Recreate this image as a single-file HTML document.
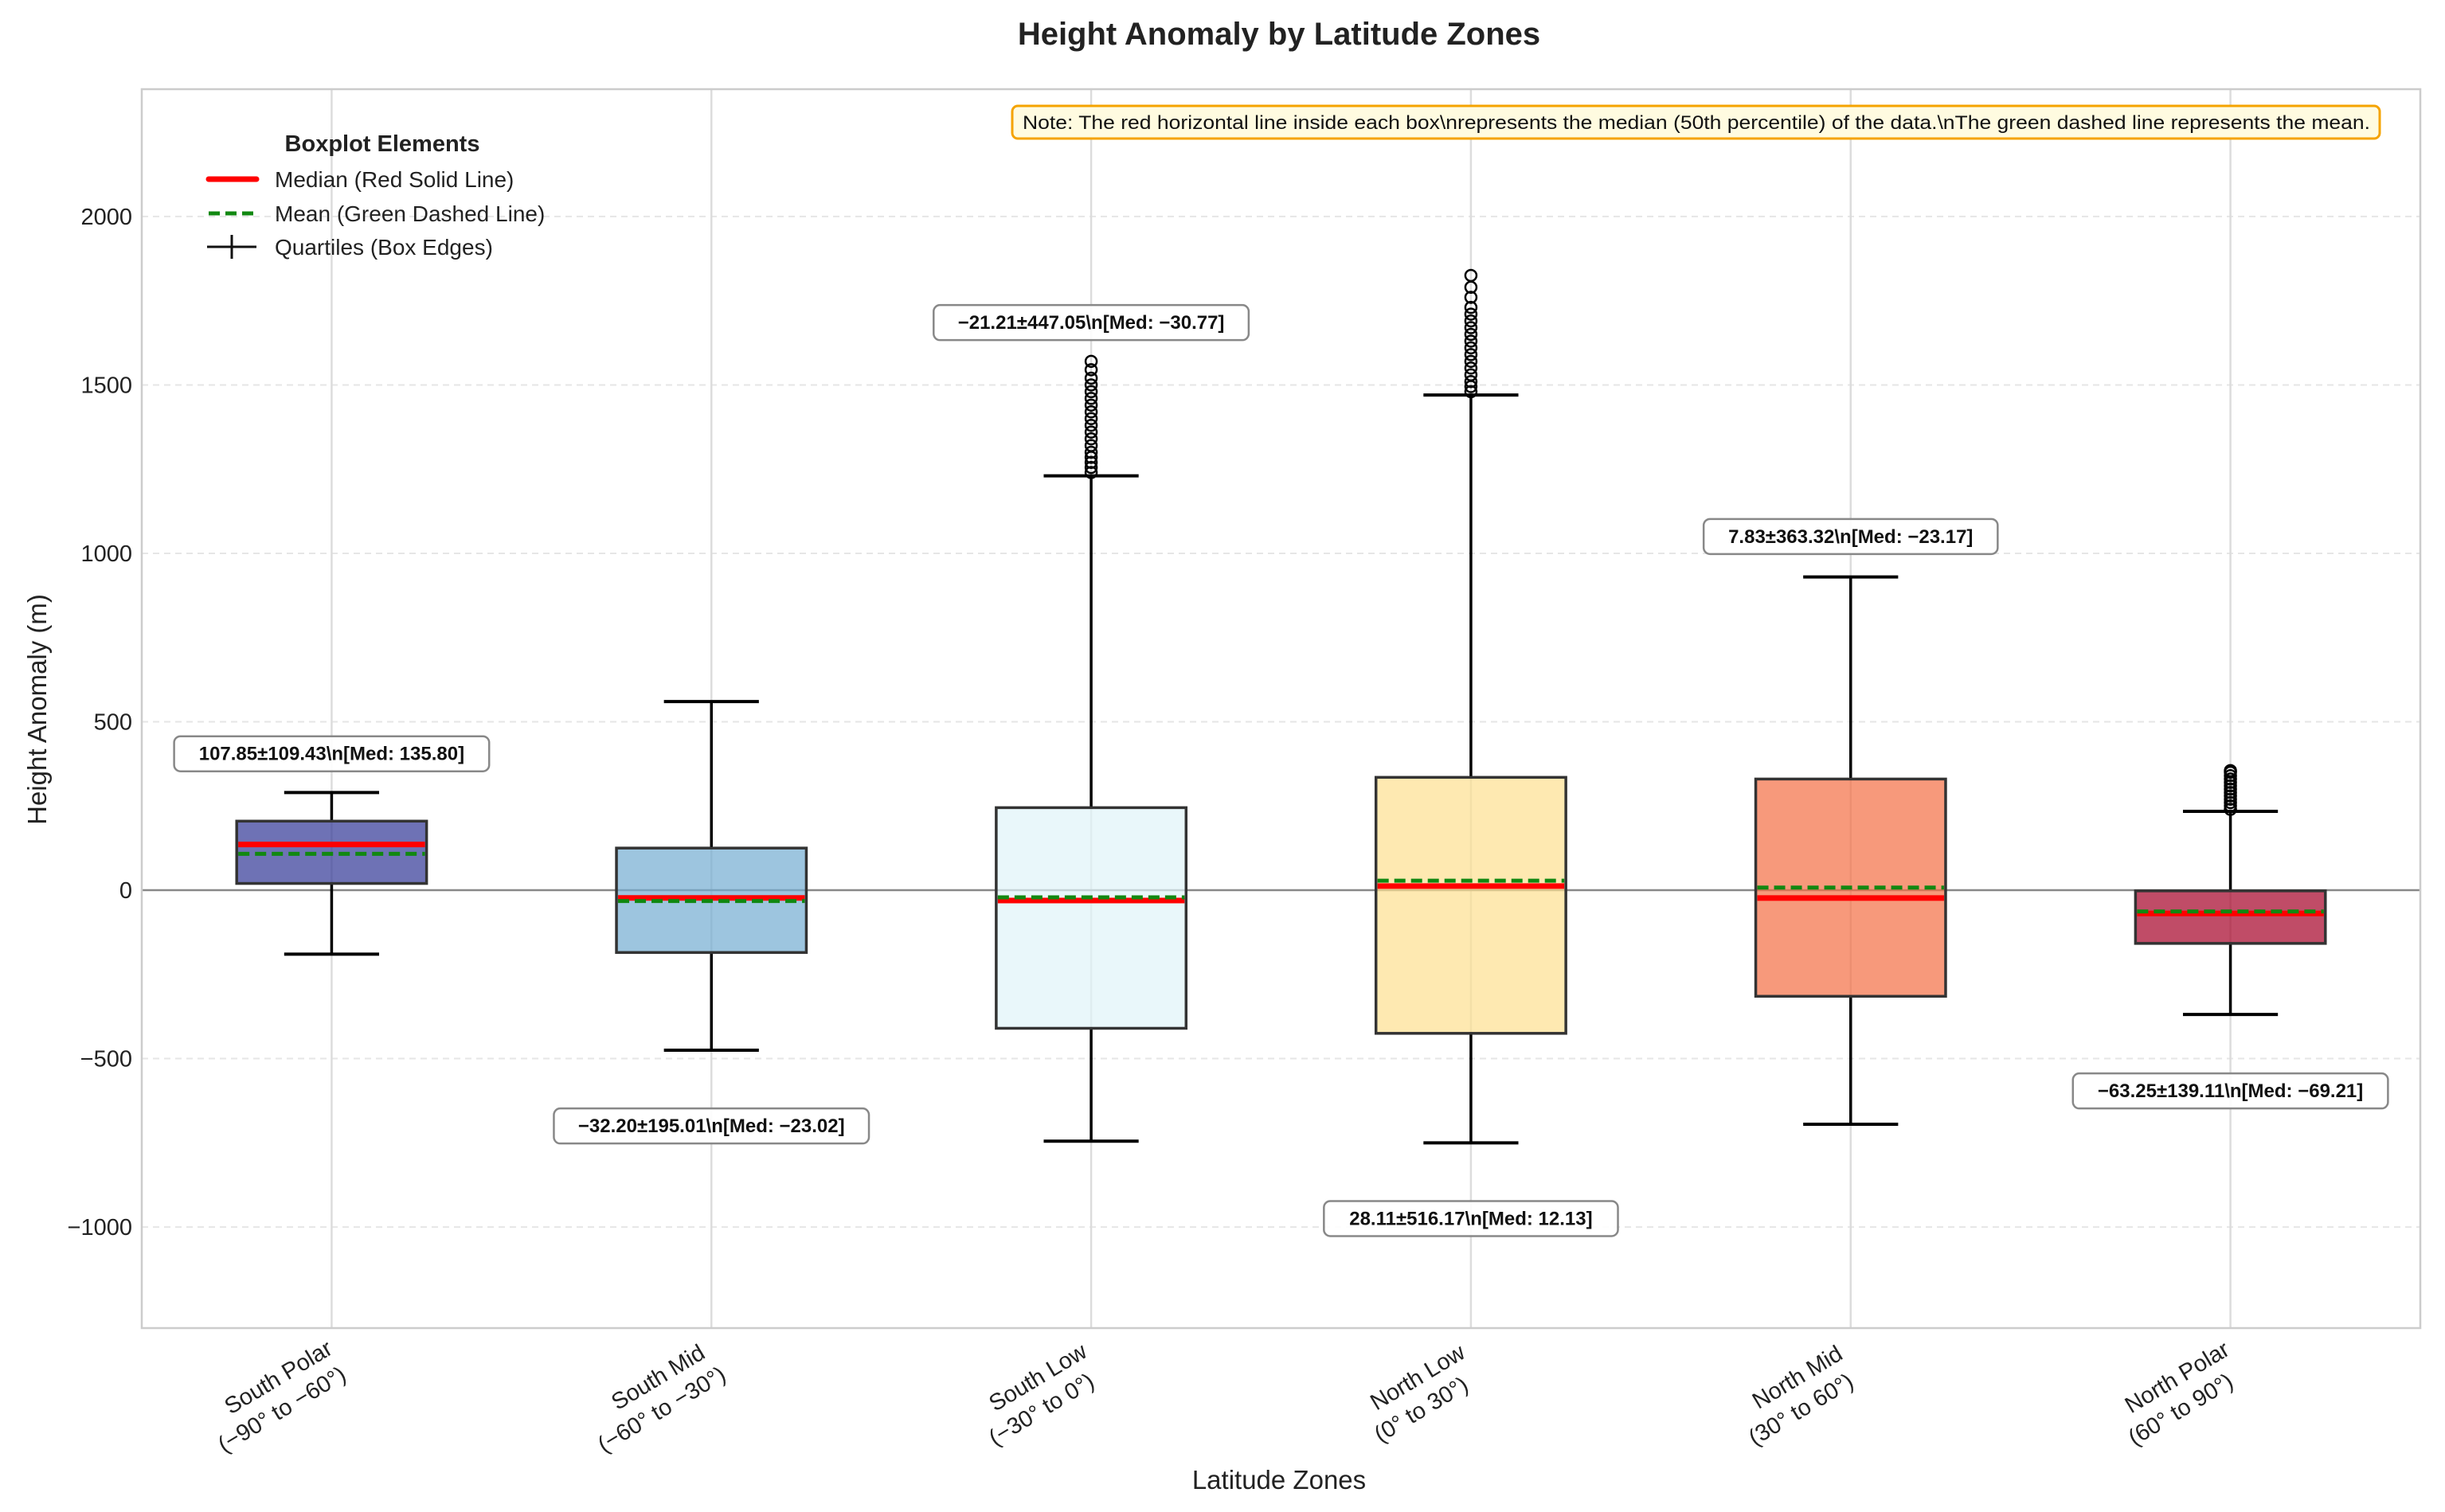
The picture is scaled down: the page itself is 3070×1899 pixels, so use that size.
<!DOCTYPE html>
<html><head><meta charset="utf-8"><style>
html,body{margin:0;padding:0;background:#fff;}
svg{display:block;font-family:"Liberation Sans",sans-serif;}
</style></head><body>
<svg id="chart" width="3070" height="1899" viewBox="0 0 3070 1899" xmlns="http://www.w3.org/2000/svg">
<rect x="0" y="0" width="3070" height="1899" fill="#fff"/>
<g id="grid"></g>
<g id="marks"></g>
<g id="annot"></g>
<rect x="178" y="112" width="2861" height="1556" fill="none" stroke="#cccccc" stroke-width="2.5"/>
<g id="axes"></g>
<text x="1606" y="56" text-anchor="middle" font-size="40" font-weight="bold" fill="#222">Height Anomaly by Latitude Zones</text>
<text x="1606" y="1870" text-anchor="middle" font-size="33" fill="#222">Latitude Zones</text>
<text transform="translate(58,891) rotate(-90)" text-anchor="middle" font-size="33" fill="#222">Height Anomaly (m)</text>
<g>
<text x="480" y="190" text-anchor="middle" font-size="29" font-weight="bold" fill="#222">Boxplot Elements</text>
<line x1="262" y1="225" x2="322" y2="225" stroke="#ff0000" stroke-width="7" stroke-linecap="round"/>
<text x="345" y="235" font-size="28" fill="#222">Median (Red Solid Line)</text>
<line x1="262" y1="268" x2="322" y2="268" stroke="#118811" stroke-width="5" stroke-dasharray="14,7"/>
<text x="345" y="278" font-size="28" fill="#222">Mean (Green Dashed Line)</text>
<line x1="260" y1="310" x2="322" y2="310" stroke="#111" stroke-width="3"/>
<line x1="291" y1="295" x2="291" y2="325" stroke="#111" stroke-width="3"/>
<text x="345" y="320" font-size="28" fill="#222">Quartiles (Box Edges)</text>
</g>
<g>
<rect x="1271" y="133" width="1717" height="41" rx="7" fill="#fffbe0" stroke="#f5a300" stroke-width="3"/>
<text x="1284" y="162" font-size="24" fill="#111" textLength="1692" lengthAdjust="spacingAndGlyphs">Note: The red horizontal line inside each box\nrepresents the median (50th percentile) of the data.\nThe green dashed line represents the mean.</text>
</g>
</svg>
<script>
const categories = ["South Polar", "South Mid", "South Low", "North Low", "North Mid", "North Polar"];
const ranges = ["(\u221290\u00b0 to \u221260\u00b0)", "(\u221260\u00b0 to \u221230\u00b0)", "(\u221230\u00b0 to 0\u00b0)", "(0\u00b0 to 30\u00b0)", "(30\u00b0 to 60\u00b0)", "(60\u00b0 to 90\u00b0)"];
const whiskerLow = [-190, -475, -745, -750, -695, -369];
const q1Values = [20, -185, -410, -425, -315, -158];
const medians = [135.80, -23.02, -30.77, 12.13, -23.17, -69.21];
const means = [107.85, -32.20, -21.21, 28.11, 7.83, -63.25];
const q3Values = [205, 125, 245, 335, 330, -2];
const whiskerHigh = [290, 560, 1230, 1470, 930, 234];
const stds = [109.43, 195.01, 447.05, 516.17, 363.32, 139.11];
const outliersSL = [1240, 1255, 1270, 1285, 1300, 1320, 1340, 1360, 1380, 1400, 1420, 1440, 1460, 1480, 1500, 1520, 1545, 1570];
const outliersNL = [1480, 1495, 1510, 1530, 1550, 1570, 1590, 1610, 1630, 1650, 1670, 1690, 1710, 1730, 1760, 1790, 1825];
const outliersNP = [240, 250, 260, 270, 280, 290, 300, 310, 320, 330, 340, 350, 355];
const outlierSets = [[], [], outliersSL, outliersNL, [], outliersNP];
const labelY = [405, -700, 1685, -975, 1050, -596];
const yTicks = [-1000, -500, 0, 500, 1000, 1500, 2000];
const colors = ["#313695", "#74add1", "#e0f3f8", "#fee090", "#f46d43", "#a50026"];

const NS = "http://www.w3.org/2000/svg";
const X0 = 178, X1 = 3039, Y0 = 112, Y1 = 1668;
const xMin = 0.5, xMax = 6.5, yMin = -1300, yMax = 2378;
function xs(i){ return X0 + (i + 1 - xMin) / (xMax - xMin) * (X1 - X0); }
function ys(v){ return Y1 - (v - yMin) / (yMax - yMin) * (Y1 - Y0); }
function mk(tag, attrs, parent, text){
  const e = document.createElementNS(NS, tag);
  for (const k in attrs) e.setAttribute(k, attrs[k]);
  if (text !== undefined) e.textContent = text;
  parent.appendChild(e);
  return e;
}
const grid = document.getElementById('grid');
const marks = document.getElementById('marks');
const annot = document.getElementById('annot');
const axes = document.getElementById('axes');
const bw = 0.5 * (X1 - X0) / (xMax - xMin);
const cw = 0.25 * (X1 - X0) / (xMax - xMin);
const fmt = v => (v < 0 ? "\u2212" : "") + Math.abs(v).toFixed(2);

yTicks.forEach(t => {
  const g = mk('line', {x1: X0, x2: X1, y1: ys(t), y2: ys(t), stroke: '#e6e6e6', 'stroke-width': 2, 'stroke-dasharray': '8,6'}, grid);
  
  
  const l = mk('text', {x: 166, y: ys(t) + 10, 'text-anchor': 'end', 'font-size': 29, fill: '#222'}, axes, t < 0 ? "\u2212" + Math.abs(t) : String(t));
  
  
});
categories.forEach((c, i) => {
  const g = mk('line', {x1: xs(i), x2: xs(i), y1: Y0, y2: Y1, stroke: '#dcdcdc', 'stroke-width': 2.5}, grid);
  
  
});
const zl = mk('line', {x1: X0, x2: X1, y1: ys(0), y2: ys(0), stroke: '#888', 'stroke-width': 2.5}, grid);



categories.forEach((c, i) => {
  const x = xs(i);
  const g = mk('g', {}, marks);
  
  
  mk('line', {x1: x, x2: x, y1: ys(q3Values[i]), y2: ys(whiskerHigh[i]), stroke: '#000', 'stroke-width': 3.5}, g);
  mk('line', {x1: x, x2: x, y1: ys(q1Values[i]), y2: ys(whiskerLow[i]), stroke: '#000', 'stroke-width': 3.5}, g);
  mk('line', {x1: x - cw/2, x2: x + cw/2, y1: ys(whiskerHigh[i]), y2: ys(whiskerHigh[i]), stroke: '#000', 'stroke-width': 4}, g);
  mk('line', {x1: x - cw/2, x2: x + cw/2, y1: ys(whiskerLow[i]), y2: ys(whiskerLow[i]), stroke: '#000', 'stroke-width': 4}, g);
  outlierSets[i].forEach(v => {
    const o = mk('circle', {cx: x, cy: ys(v), r: 7, fill: 'none', stroke: '#000', 'stroke-width': 2.5}, g);
    
    
  });
  const top = ys(q3Values[i]), bot = ys(q1Values[i]);
  mk('rect', {x: x - bw/2, y: top, width: bw, height: bot - top, fill: colors[i], 'fill-opacity': 0.7, stroke: '#333', 'stroke-width': 3.5}, g);
  mk('line', {x1: x - bw/2 + 2, x2: x + bw/2 - 2, y1: ys(medians[i]), y2: ys(medians[i]), stroke: '#ff0000', 'stroke-width': 7}, g);
  mk('line', {x1: x - bw/2 + 2, x2: x + bw/2 - 2, y1: ys(means[i]), y2: ys(means[i]), stroke: '#118811', 'stroke-width': 5, 'stroke-dasharray': '14,7'}, g);

  const txt = fmt(means[i]) + "\u00b1" + stds[i].toFixed(2) + "\\n[Med: " + fmt(medians[i]) + "]";
  const ag = mk('g', {}, annot);
  
  
  const ly = ys(labelY[i]);
  const w = txt.length * 13.2 + 26;
  mk('rect', {x: x - w/2, y: ly - 22, width: w, height: 44, rx: 8, fill: '#fff', 'fill-opacity': 0.9, stroke: '#888', 'stroke-width': 2.5}, ag);
  mk('text', {x: x, y: ly + 8, 'text-anchor': 'middle', 'font-size': 24, 'font-weight': 'bold', fill: '#111'}, ag, txt);

  const tg = mk('g', {transform: 'translate(' + (x - 62) + ',1738) rotate(-31)'}, axes);
  
  
  mk('text', {x: 0, y: 0, 'text-anchor': 'middle', 'font-size': 29, fill: '#222'}, tg, c);
  mk('text', {x: -17, y: 37, 'text-anchor': 'middle', 'font-size': 29, fill: '#222'}, tg, ranges[i]);
});
</script>
</body></html>
